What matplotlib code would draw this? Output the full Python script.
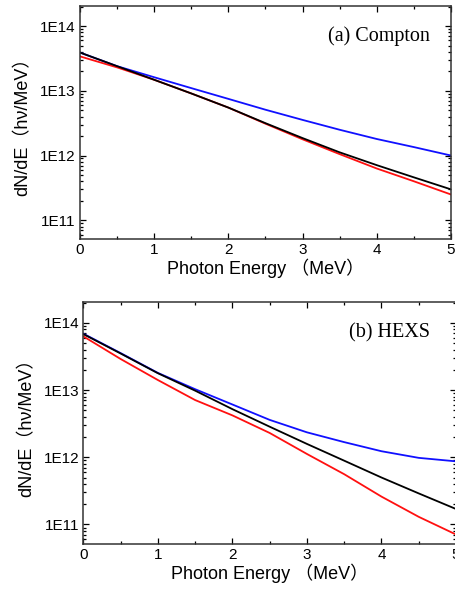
import matplotlib
matplotlib.use("Agg")
import matplotlib.pyplot as plt
from matplotlib.ticker import LogLocator, MultipleLocator, FixedFormatter, FixedLocator

plt.rcParams['font.family'] = ['Liberation Sans', 'Noto Sans CJK SC', 'DejaVu Sans']

# (a) Compton
energy_a = [0, 0.5, 1, 1.5, 2, 2.5, 3, 3.5, 4, 4.5, 5]
black_a = [3.9e13, 2.4e13, 1.48e13, 9.1e12, 5.5e12, 3.16e12, 1.86e12, 1.12e12, 7.1e11, 4.6e11, 3.0e11]
red_a = [3.4e13, 2.3e13, 1.48e13, 9.1e12, 5.5e12, 3.1e12, 1.78e12, 1.05e12, 6.3e11, 4.0e11, 2.5e11]
blue_a = [3.9e13, 2.4e13, 1.62e13, 1.1e13, 7.5e12, 5.1e12, 3.55e12, 2.5e12, 1.8e12, 1.35e12, 1.0e12]

# (b) HEXS
energy_b = [0, 0.5, 1, 1.5, 2, 2.5, 3, 3.5, 4, 4.5, 5]
black_b = [6.8e13, 3.5e13, 1.78e13, 0.98e13, 5.2e12, 2.85e12, 1.58e12, 8.9e11, 5.0e11, 2.9e11, 1.7e11]
blue_b = [6.9e13, 3.55e13, 1.8e13, 1.03e13, 6.1e12, 3.6e12, 2.35e12, 1.68e12, 1.23e12, 9.8e11, 8.7e11]
red_b = [6.3e13, 2.9e13, 1.41e13, 7.1e12, 4.2e12, 2.3e12, 1.12e12, 5.6e11, 2.6e11, 1.3e11, 7.1e10]

xticks = [0, 1, 2, 3, 4, 5]
yticks = [1e11, 1e12, 1e13, 1e14]
ytick_labels = ['1E11', '1E12', '1E13', '1E14']
ylabel = 'dN/dE（hν/MeV）'
xlabel = 'Photon Energy （MeV）'

fig = plt.figure(figsize=(4.56, 5.94), dpi=100)
ax1 = fig.add_axes([0.1754, 0.5976, 0.8136, 0.3923])
ax2 = fig.add_axes([0.1827, 0.0842, 0.8173, 0.4074])


def style_axes(ax, label, lx, ly):
    ax.set_yscale('log')
    ax.set_xlim(0, 5)
    ax.set_ylim(10 ** 10.71, 10 ** 14.31)
    ax.xaxis.set_major_locator(FixedLocator(xticks))
    ax.xaxis.set_minor_locator(MultipleLocator(0.5))
    ax.yaxis.set_major_locator(FixedLocator(yticks))
    ax.yaxis.set_major_formatter(FixedFormatter(ytick_labels))
    ax.yaxis.set_minor_locator(LogLocator(base=10, subs=range(2, 10)))
    ax.tick_params(which='both', direction='in', top=True, right=True, labelsize=11, width=0.9)
    ax.tick_params(which='major', length=4, pad=3)
    ax.tick_params(which='minor', length=2)
    ax.yaxis.set_minor_formatter(FixedFormatter([]))
    for s in ax.spines.values():
        s.set_linewidth(1.1)
        s.set_color('#333333')
    ax.set_xlabel(xlabel, fontsize=13, labelpad=1)
    ax.set_ylabel(ylabel, fontsize=13, labelpad=6)
    ax.text(lx, ly, label, transform=ax.transAxes, ha='right', va='center',
            fontsize=14.5, family='Liberation Serif')


ax1.plot(energy_a, blue_a, color='#1010ff', lw=1.3)
ax1.plot(energy_a, red_a, color='#ff1010', lw=1.3)
ax1.plot(energy_a, black_a, color='black', lw=1.3)
style_axes(ax1, '(a) Compton', 0.943, 0.871)

ax2.plot(energy_b, blue_b, color='#1010ff', lw=1.3)
ax2.plot(energy_b, red_b, color='#ff1010', lw=1.3)
ax2.plot(energy_b, black_b, color='black', lw=1.3)
style_axes(ax2, '(b) HEXS', 0.93, 0.872)

fig.savefig('out.png', dpi=100)
